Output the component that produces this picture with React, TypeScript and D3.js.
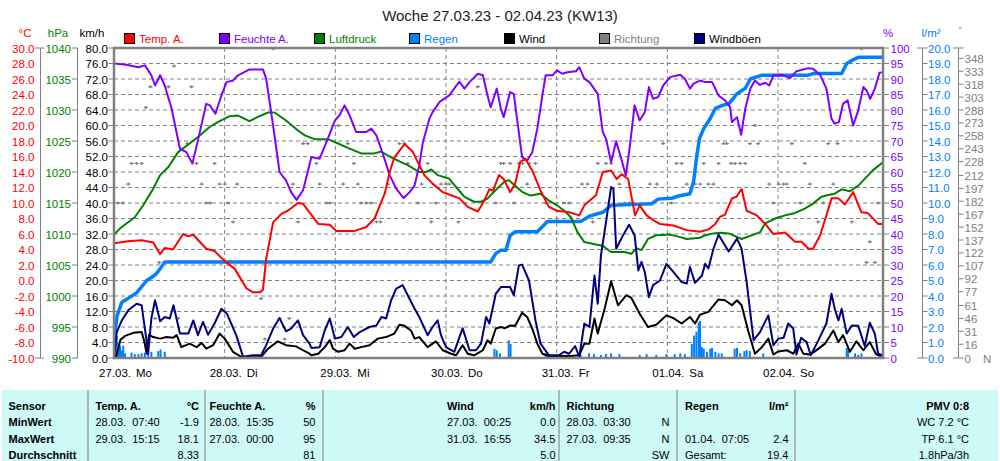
import React from 'react';
import * as d3 from 'd3';

// ---------- DATA (hours since 27.03. 00:00, value) ----------
const dayLabels = ['27.03.', '28.03.', '29.03.', '30.03.', '31.03.', '01.04.', '02.04.'];
const weekdays = ['Mo', 'Di', 'Mi', 'Do', 'Fr', 'Sa', 'So'];
const title = 'Woche 27.03.23 - 02.04.23 (KW13)';

const tempTicks = d3.range(-10, 30.001, 2);
const presTicks = d3.range(990, 1040.001, 5);
const kmhTicks = d3.range(0, 80.001, 4);
const humTicks = d3.range(0, 100.001, 5);
const rainTicks = d3.range(0, 20.001, 1);
const dirTicks = [0, 16, 31, 46, 61, 77, 92, 107, 122, 137, 152, 167, 182, 197, 212, 228, 243, 258, 273, 288, 303, 318, 333, 348];

const legendItems = [
  { label: 'Temp. A.', fill: '#ff0000', text: '#ff0000' },
  { label: 'Feuchte A.', fill: '#8000ff', text: '#8000ff' },
  { label: 'Luftdruck', fill: '#008000', text: '#008000' },
  { label: 'Regen', fill: '#0080ff', text: '#0080ff' },
  { label: 'Wind', fill: '#000000', text: '#000000' },
  { label: 'Richtung', fill: '#808080', text: '#808080' },
  { label: 'Windböen', fill: '#000080', text: '#000000' },
];

const tempSeries: [number, number][] = [
  [0, 4.8], [3.5, 5.1], [6, 5.2], [8.5, 4.9], [10, 3.4], [11, 4.2], [12.8, 4.0], [15, 6.0], [16.1, 5.7], [17.2, 5.9],
  [20, 4.1], [21.8, 3.8], [24, 2.5], [26.2, 1.5], [28.7, -1.0], [30.1, -1.5], [31.7, -1.5], [32.3, -1.2], [33, 2.8],
  [34.5, 7.5], [36.3, 8.6], [37.7, 9.0], [39.9, 10.0], [41, 9.9], [42.4, 8.8], [44.3, 7.3], [46.8, 7.2], [48.2, 6.4],
  [52.2, 6.4], [54.7, 6.9], [56.5, 8.0], [58.7, 11.2], [59.8, 14.0], [60.8, 15.9], [63, 17.6], [64.8, 16.6], [66.2, 14.9],
  [67.3, 13.6], [69.1, 12.5], [71.3, 11.4], [73.1, 11.0], [74.9, 10.6], [76.7, 9.5], [78.9, 8.9], [80.3, 10.3],
  [81.4, 11.8], [82.2, 11.6], [83.5, 13.6], [84.5, 13.1], [85.9, 11.4], [87, 12.5], [88.1, 15.3], [89.2, 15.7],
  [90.7, 14.2], [92.5, 11.6], [94.3, 9.5], [96.1, 9.0], [98.7, 8.8], [100.9, 8.4], [102, 9.7], [104.5, 11.0],
  [106, 14.0], [107.8, 14.2], [109, 13.1], [110.1, 13.7], [111.5, 13.1], [113, 8.4], [114, 9.7], [115.5, 8.4],
  [116.9, 7.8], [118.4, 7.3], [121.3, 7.1], [124.2, 6.5], [127.1, 6.3], [129, 6.6], [130.4, 7.3], [131.4, 8.2],
  [132.5, 8.5], [134, 10.6], [135, 10.8], [136.1, 11.8], [137.2, 9.0], [139.4, 8.4], [141.2, 7.3], [143, 6.0],
  [145.5, 6.2], [147.7, 5.0], [149.1, 5.0], [150.6, 4.1], [151.6, 4.1], [153.1, 5.8], [154.5, 8.4], [155.6, 10.6],
  [157.1, 10.6], [158.5, 9.8], [160.3, 11.4], [162.1, 8.8], [163.5, 8.7], [165.7, 7.3], [166.8, 7.3],
];

const humSeries: [number, number][] = [
  [0, 95], [2.7, 94.6], [5.3, 93.8], [6.7, 94.4], [8.1, 91.2], [8.9, 87.9], [10, 91.2], [11, 87.9], [12.5, 80.4],
  [14.3, 67.5], [15.7, 66.4], [17, 62.7], [18.2, 70.2], [20, 82], [20.8, 81.5], [22, 78.8], [23.3, 84.7], [24.4, 89],
  [25.8, 89.5], [26.9, 91.2], [29.4, 93.1], [32.3, 93.1], [33, 90.1], [34.5, 75], [35.9, 60], [37.3, 57.3], [38.4, 53.5],
  [39.6, 51], [41, 54.1], [42, 60], [42.8, 64.8], [44.6, 64.3], [46.1, 69.7], [47.9, 76.6], [48.9, 78.3], [50, 81.5],
  [51.1, 78.3], [52.5, 72.9], [54.7, 72.9], [55.8, 74], [56.9, 71.8], [58.3, 65.9], [59.8, 58.9], [61.2, 54.6],
  [62.8, 51.6], [64.1, 53.5], [65.2, 55.7], [66.2, 62.1], [67, 69.7], [68.4, 77.2], [69.1, 79.3], [70.6, 82.6],
  [72.7, 84.7], [74.9, 89.2], [76, 86.9], [77.1, 89], [78.9, 91.7], [80, 91.2], [81, 84.7], [81.7, 80.9], [83, 86.9],
  [83.9, 80.4], [84.5, 77.7], [85.9, 85.8], [86.7, 85.2], [87.4, 77.2], [88.5, 64.8], [89.6, 63.7], [90.7, 66.4],
  [91.8, 74], [92.9, 84.7], [93.6, 91.2], [95.1, 91.2], [96.1, 92.8], [97.2, 91.7], [98.3, 92.2], [100.2, 92.5],
  [100.9, 93.8], [102, 90.1], [103.1, 89], [104.9, 85.2], [106, 72.9], [106.7, 70.7], [107.8, 63.2], [108.9, 69.9],
  [110, 64.3], [111, 58.9], [111.8, 67.5], [112.9, 81.5], [114, 76.6], [115.1, 79.3], [116, 87.4], [116.9, 83.6],
  [118, 84.2], [119.1, 87.9], [120.6, 90.6], [122.8, 91.4], [123.8, 90.1], [124.9, 86.9], [125.7, 88.5], [127.1, 89.5],
  [128.2, 89], [129.7, 89], [131.1, 84.7], [132.5, 83.1], [133.6, 80.9], [134, 76.1], [135.1, 77.7], [136, 72],
  [136.9, 80.4], [138, 86.9], [139, 89.5], [140.1, 88.1], [141.2, 88.8], [142.1, 87.9], [143, 91.2], [144.8, 91.4],
  [146.6, 90.3], [148, 92.5], [150.6, 93.5], [151.6, 93.3], [153.1, 91.4], [154.5, 86.9], [155.6, 77.2], [156.3, 75.6],
  [157.2, 76.1], [158.1, 82], [159.1, 83.1], [160.3, 75], [161.4, 79.9], [162.5, 87.4], [163.2, 86.3], [164, 83.6],
  [165, 86.9], [166, 92], [166.8, 92.2],
];

const presSeries: [number, number][] = [
  [0, 1009.9], [1.3, 1010.9], [2.7, 1011.7], [4.5, 1012.7], [6.3, 1014.6], [8.5, 1017.3], [10, 1019.5], [11.8, 1020.8],
  [13.9, 1023.2], [16.4, 1024.6], [18.6, 1025.9], [20.8, 1027.3], [22.6, 1028.1], [25.1, 1029], [26.9, 1029.1],
  [29.4, 1028.2], [31.2, 1028.9], [33.4, 1029.6], [34.8, 1029.6], [37.3, 1028.3], [39.9, 1026.7], [41.4, 1025.9],
  [43.5, 1025.3], [46.4, 1025.3], [48.6, 1024.6], [50.7, 1023.9], [53.6, 1023], [56.5, 1023], [57.9, 1023.3],
  [59.8, 1022.5], [61.9, 1021.7], [63.7, 1021.1], [66.2, 1020], [67.7, 1020], [68.8, 1020.4], [70.2, 1019.5],
  [72.7, 1018.9], [74.5, 1017.3], [76, 1016], [78.1, 1015.2], [79.6, 1015.2], [81, 1015.7], [82.5, 1016.9],
  [84.6, 1018.4], [85.6, 1018.7], [87, 1017.8], [88.5, 1016.8], [90.3, 1016.2], [92.5, 1016.5], [94.3, 1015.4],
  [96.1, 1014.6], [97.6, 1013.8], [99.1, 1012.7], [100.5, 1010.3], [102, 1008.7], [104.5, 1008.3], [106, 1008.1],
  [107.8, 1007.1], [110.7, 1007.1], [112.2, 1006.8], [113.3, 1007.7], [114.4, 1007.4], [115.8, 1009.2], [117.6, 1009.8],
  [120.6, 1009.9], [122.8, 1009.5], [124.2, 1009.2], [127.1, 1009.4], [128.2, 1009.8], [130, 1010.1], [131.5, 1010.2],
  [133.3, 1010.1], [136.1, 1009.2], [138.7, 1009.9], [140.1, 1010.3], [141.2, 1011.7], [143.4, 1012.5], [145.5, 1013],
  [147.7, 1013.4], [149.8, 1014.1], [151.6, 1014.9], [153.4, 1016], [154.9, 1016.3], [156.3, 1016.5], [157.8, 1017.2],
  [159.6, 1016.9], [161.4, 1017.8], [162.8, 1018.9], [164.6, 1020.3], [166.8, 1021.6],
];

const rainSumSeries: [number, number][] = [
  [0, 0], [0.2, 1.7], [0.7, 2.75], [1.7, 3.6], [3.1, 3.85], [4.9, 4.2], [7.1, 5.0], [8.9, 5.35], [10, 5.75], [11, 6.2],
  [81.7, 6.2], [82.8, 6.75], [83.9, 6.95], [85, 6.95], [85.9, 7.9], [87, 8.15], [91.8, 8.15], [94, 8.8], [101.2, 8.8],
  [103.1, 9.15], [106, 9.4], [107.8, 9.85], [116.6, 9.95], [118, 10.25], [120.9, 10.3], [122.4, 10.45], [124.9, 10.6],
  [125.7, 11.4], [126.4, 13.1], [127, 14.2], [127.9, 14.8], [129.3, 15.45], [130.4, 16.1], [131.9, 16.3], [133.3, 16.4],
  [134.3, 16.75], [135.1, 17.05], [136.9, 17.4], [138, 18.0], [140.5, 18.25], [150.6, 18.25], [151.6, 18.35],
  [157.8, 18.35], [158.9, 19.0], [160, 19.2], [161.4, 19.4], [166.8, 19.4],
];

const rainBars: [number, number][] = [
  [0.2, 1.7], [0.6, 1.45], [0.9, 1.0], [1.3, 0.8], [1.7, 0.5], [2.0, 0.8], [2.4, 0.3], [3.8, 0.35], [4.5, 0.25],
  [5.3, 0.25], [6.0, 0.3], [6.7, 0.35], [7.4, 0.45], [8.1, 0.4], [9.6, 0.45], [10.1, 0.55], [11.0, 0.4],
  [82.5, 0.6], [83.0, 0.5], [83.7, 0.3], [85.6, 1.15], [86.0, 0.9], [93.6, 0.3], [94.0, 0.35], [101.2, 0.2],
  [103, 0.3], [104.1, 0.25], [105.6, 0.2], [106.7, 0.25], [107.8, 0.3], [109.6, 0.25], [114, 0.2], [115.5, 0.25],
  [117.6, 0.2], [119.8, 0.25], [121.6, 0.25], [122.8, 0.3], [123.8, 0.25], [125.3, 0.9], [125.8, 1.45], [126.3, 1.7],
  [126.8, 2.3], [127.1, 2.4], [127.5, 0.7], [127.9, 0.6], [128.6, 0.4], [129.3, 0.6], [129.7, 0.65], [130.4, 0.4],
  [131.1, 0.3], [131.8, 0.3], [134.6, 0.6], [135.1, 0.65], [135.8, 0.3], [136.7, 0.45], [137.2, 0.5], [137.9, 0.45],
  [140.8, 0.3], [158.9, 0.65], [159.2, 0.5], [160.7, 0.3], [161.4, 0.2], [162.1, 0.3], [166, 0.2],
];

const windSeries: [number, number][] = [
  [0, 0.7], [0.4, 0], [1.4, 4.7], [2.4, 5.7], [4.2, 6.5], [6, 6.7], [6.6, 4.1], [7.1, 1.1], [7.6, 6], [8.5, 5.4],
  [10, 5], [11.4, 5.4], [12.8, 5.2], [13.6, 5.9], [14.6, 2.8], [16.4, 3.7], [17.9, 2.8], [19, 3.9], [20, 2.4],
  [21.5, 3.3], [22.9, 6.3], [24, 5], [25.8, 1.6], [27.6, 0.3], [29.8, 0.2], [31.9, 0.2], [33.4, 2.4], [35.5, 4.3],
  [37.3, 3.3], [39.5, 3], [41, 2], [42.4, 1.1], [42.8, 0.7], [44.3, 1.1], [45.7, 2.8], [46.8, 4.6], [47.5, 2.4],
  [48.6, 1.6], [50, 2], [51.1, 3.7], [52.2, 2.4], [53.6, 2.8], [55.4, 3.3], [57.2, 5], [59, 5.4], [60.8, 6.3],
  [61.9, 8.6], [63, 8.3], [64.4, 7.1], [65.2, 5], [66.2, 5.4], [68, 2.8], [69.8, 4.3], [71.3, 2], [73.1, 1.1],
  [74.2, 0.7], [75.6, 3.3], [76.7, 1.1], [78.1, 0.7], [80, 2], [81, 4.6], [81.7, 3.7], [82.8, 7.6], [83.9, 8],
  [84.8, 7.7], [85.9, 8.4], [87, 8.3], [88.5, 11.7], [89.6, 10.6], [90.7, 7.6], [91.8, 3.7], [92.9, 1.1], [94.3, 0.5],
  [99.1, 0.5], [100.9, 0.7], [102, 3.7], [103.1, 3.7], [104.2, 10.2], [104.9, 6.3], [106.4, 12.7], [107.8, 19.8],
  [109.3, 13.6], [111.1, 16.2], [112.2, 15.5], [114, 11.4], [115.8, 8], [117.6, 8.6], [119.8, 11], [121.3, 10.3],
  [123.1, 8.9], [124.9, 10.6], [126, 8.9], [127.1, 11.2], [128.9, 11.9], [131.1, 15.1], [132.5, 14.9], [134, 13.6],
  [135.1, 14.9], [136.1, 13.6], [137.6, 6.7], [139, 1.1], [140.5, 2.8], [141.9, 5], [143, 0.9], [144.1, 1.7],
  [145.9, 2], [147.3, 1.1], [148.4, 3.7], [149.5, 1.1], [150.9, 0.9], [152, 1.7], [154.2, 3.7], [156, 7.1],
  [157.1, 4.1], [158.1, 5.9], [159.6, 1.6], [161, 4.3], [162.5, 2], [163.9, 4.1], [165.3, 0.9], [166.8, 0.5],
];

const gustSeries: [number, number][] = [
  [0, 0], [0.6, 6.7], [1.7, 9.7], [3.1, 12.3], [4.9, 14], [6, 13.6], [7.1, 4.1], [7.4, 1.1], [8.1, 10.2], [8.9, 14.9],
  [10, 9.5], [11, 10.6], [12.1, 10.2], [12.9, 13.6], [14.3, 6.3], [16.1, 6.3], [17.2, 9.7], [18.2, 5.9], [19.3, 9.3],
  [20.4, 6], [21.8, 8.9], [23.3, 12.7], [24.5, 11.4], [26.5, 5.9], [28, 0.3], [30.1, 0.7], [31.9, 0.7], [33, 3.3],
  [34.5, 7.6], [35.9, 10.3], [37.3, 6.9], [38.4, 7.6], [39.9, 9.7], [41, 5.9], [42.4, 3.7], [42.8, 2.6], [44.6, 2.8],
  [45.7, 7.1], [46.8, 10.2], [47.9, 5], [49.3, 5.4], [50.7, 8], [52, 5.4], [53.3, 6.7], [55.4, 8], [56.9, 8.4],
  [58, 10.6], [59, 10.2], [60.1, 14.9], [61.2, 17.9], [62.6, 18.8], [63.7, 16.2], [65.2, 12.7], [66.2, 10.6], [68, 5.9],
  [69.1, 8], [70.2, 9.7], [70.9, 5.9], [72, 2.8], [73.8, 1.6], [75.6, 7.7], [77.1, 2], [78.5, 2], [79.6, 3.7],
  [80.7, 10.6], [81.4, 8.9], [82.8, 16.6], [83.9, 18.3], [85.9, 18.3], [86.7, 16.2], [87.8, 23.9], [88.5, 24.1],
  [90, 20], [91.4, 9.7], [92.5, 3.7], [94.3, 0.7], [96.5, 0.7], [97.6, 1.6], [98.7, 1.1], [100, 3.1], [100.9, 0.3],
  [102, 8.9], [103.1, 8], [104.2, 21.3], [104.9, 14], [105.6, 26.5], [106.7, 35.1], [107.8, 44.1], [108.3, 43.7],
  [108.9, 28.2], [110.4, 31.7], [111.7, 34.4], [112.9, 31.7], [113.7, 22.6], [114.4, 24.8], [115.1, 22.2], [116, 15.7],
  [116.9, 18.8], [118.4, 20], [119.8, 24.3], [121.3, 22.2], [123.1, 19.6], [124.2, 19.2], [124.9, 23.5], [126, 19.4],
  [127.5, 21.3], [128.2, 24.3], [128.9, 23.1], [130, 28.2], [131.1, 31.8], [133.3, 27.5], [135.1, 30.8], [136.1, 28.2],
  [137.2, 19.6], [138.7, 4.6], [140.1, 6.7], [141.9, 11], [143, 3.3], [144.1, 5], [145.2, 5.2], [146.2, 8.9],
  [147.3, 7.6], [148, 0.9], [149, 5.2], [150.2, 4.1], [151.1, 0.7], [152.4, 3.7], [154.5, 8.9], [155.6, 16.6],
  [156.3, 12.7], [157.1, 9.7], [157.8, 12.7], [158.9, 6.3], [160, 8.4], [161.4, 8.3], [162.8, 3.1], [163.9, 9.1],
  [165, 6.3], [165.7, 1.1], [166.8, 0.7],
];

const dirSeries: [number, number][] = [
  [0.9, 180], [1.9, 180], [3.1, 202], [3.8, 226], [4.9, 226], [6, 226], [6.9, 291], [7.9, 315], [8.9, 46], [9.8, 111],
  [11.8, 315], [13, 339], [13.9, 46], [15.9, 249], [16.8, 315], [17.9, 226], [19, 202], [20, 180], [20.8, 180],
  [21.8, 226], [22.9, 202], [24, 202], [24.7, 180], [25.8, 158], [26.7, 202], [31.9, 69], [32.7, 22], [34.5, 359],
  [35.9, 46], [37, 22], [38, 46], [38.8, 202], [39.9, 158], [41, 249], [42, 249],
  [43.9, 226], [44.6, 202], [46.1, 180], [46.8, 180], [48.6, 270], [49.7, 202], [50.7, 249], [52, 226], [52.9, 202],
  [53.6, 180], [54.7, 180], [55.8, 180], [56.9, 158], [57.8, 158], [59.4, 202], [61.9, 249], [63, 249], [63.7, 226],
  [65.9, 180], [66.7, 202], [68, 226], [68.8, 158], [69.8, 180], [70.9, 202], [72, 202], [72.7, 202], [74.7, 158],
  [76, 180], [78.9, 315], [82.8, 180], [83.9, 226],
  [84.5, 226], [85.9, 226], [86.7, 180], [87.8, 226], [88.6, 226], [89.6, 202], [90, 226], [91.4, 226], [93.6, 180],
  [97.6, 180], [98.7, 180], [101.5, 202], [102.7, 202], [103.8, 158], [104.9, 226], [106.7, 226], [107.8, 226],
  [109.6, 202], [110.7, 180], [111.8, 180], [112.5, 180], [116.2, 202], [117.7, 202], [119.1, 249], [120.9, 180],
  [122, 226], [123.1, 226], [124.2, 202], [126, 202],
  [127.1, 202], [127.9, 226], [128.9, 202], [130, 202], [131.1, 226], [132.2, 249], [132.9, 249], [133.8, 226],
  [134.7, 226], [135.8, 226], [136.9, 226], [137.9, 249], [139, 270], [139.7, 249], [142.1, 202], [143, 180],
  [144.1, 202], [145.2, 202], [145.9, 202], [147, 249], [148.8, 180], [149.8, 226], [150.9, 202], [152.7, 158],
  [153.8, 180], [154.9, 249], [156, 202], [156.9, 249], [160, 158], [162.1, 359], [163.2, 111], [163.9, 135],
  [165, 111], [165.7, 180],
];

// ---------- TABLE TEXT ----------
const rowLabels = ['Sensor', 'MinWert', 'MaxWert', 'Durchschnitt'];
const tempHead = ['Temp. A.', '°C'];
const tempDates = ['28.03.  07:40', '29.03.  15:15', ''];
const tempVals = ['-1.9', '18.1', '8.33'];
const humHead = ['Feuchte A.', '%'];
const humDates = ['28.03.  15:35', '27.03.  00:00', ''];
const humVals = ['50', '95', '81'];
const windHead = ['Wind', 'km/h'];
const windDates = ['27.03.  00:25', '31.03.  16:55', ''];
const windVals = ['0.0', '34.5', '5.0'];
const dirHead = ['Richtung', ''];
const dirDates = ['28.03.  03:30', '27.03.  09:35', ''];
const dirVals = ['N', 'N', 'SW'];
const rainHead = ['Regen', 'l/m²'];
const rainDates = ['', '01.04.  07:05', 'Gesamt:'];
const rainVals = ['', '2.4', '19.4'];
const extraLines = ['PMV 0:8', 'WC 7.2 °C', 'TP 6.1 °C', '1.8hPa/3h'];

// ---------- LAYOUT ----------
const PL = 114, PR = 883, PT = 48, PB = 358;
const FONT = "'Liberation Sans', Arial, Helvetica, sans-serif";
const C = {
  red: '#ff0000', purple: '#8000ff', green: '#008000', blue: '#0080ff', black: '#000000', gray: '#808080', navy: '#000080',
};

export default function App() {
  const x = d3.scaleLinear().domain([0, 168]).range([PL, PL + 7 * 110.67]);
  const yK = d3.scaleLinear().domain([0, 80]).range([PB, PT]);
  const yT = d3.scaleLinear().domain([-10, 30]).range([PB, PT]);
  const yP = d3.scaleLinear().domain([990, 1040]).range([PB, PT]);
  const yH = d3.scaleLinear().domain([0, 100]).range([PB, PT]);
  const yR = d3.scaleLinear().domain([0, 20]).range([PB, PT]);
  const yD = d3.scaleLinear().domain([0, 360]).range([PB, PT]);

  const mk = (ys: d3.ScaleLinear<number, number>) =>
    d3.line<[number, number]>().x((d) => x(d[0])).y((d) => ys(d[1]));

  const rowY = [409.5, 426, 442.5, 459];
  const dividers = [88, 205, 323, 559, 677, 795];

  const colBlock = (head: string[], dates: string[], vals: string[], xl: number, xr: number, key: string) => (
    <g key={key}>
      <text x={xl} y={rowY[0]} fontWeight="bold">{head[0]}</text>
      {head[1] && <text x={xr} y={rowY[0]} fontWeight="bold" textAnchor="end">{head[1]}</text>}
      {dates.map((d, i) => (
        <text key={'d' + i} x={xl} y={rowY[i + 1]} style={{ whiteSpace: 'pre' }}>{d}</text>
      ))}
      {vals.map((v, i) => (
        <text key={'v' + i} x={xr} y={rowY[i + 1]} textAnchor="end">{v}</text>
      ))}
    </g>
  );

  return (
    <svg
      width={1000}
      height={461}
      style={{ position: 'absolute', left: 0, top: 0, background: '#ffffff' }}
      fontFamily={FONT}
    >
      <defs>
        <clipPath id="plotClip">
          <rect x={PL} y={PT - 1} width={PR - PL} height={PB - PT + 2} />
        </clipPath>
      </defs>
      <rect x={0} y={0} width={1000} height={461} fill="#ffffff" />

      {/* title */}
      <text x={500} y={21} textAnchor="middle" fontSize={15} fill="#222">{title}</text>

      {/* legend */}
      {legendItems.map((it, i) => (
        <g key={it.label} transform={`translate(${124 + i * 95},33)`}>
          <rect x={0.5} y={0.5} width={10} height={10} fill={it.fill} stroke="#000" strokeWidth={1} />
          <text x={15} y={9.5} fontSize={11.5} fill={it.text}>{it.label}</text>
        </g>
      ))}

      {/* unit labels */}
      <text x={25} y={37} fontSize={11.5} fill={C.red} textAnchor="middle">°C</text>
      <text x={58} y={37} fontSize={11.5} fill={C.green} textAnchor="middle">hPa</text>
      <text x={92} y={37} fontSize={11.5} fill={C.black} textAnchor="middle">km/h</text>
      <text x={888} y={37} fontSize={11.5} fill={C.purple} textAnchor="middle">%</text>
      <text x={931} y={37} fontSize={11.5} fill={C.blue} textAnchor="middle">l/m²</text>
      <text x={960} y={33} fontSize={9} fill={C.gray} textAnchor="middle">°</text>

      {/* grid */}
      {kmhTicks.filter((t) => t > 0 && t < 80).map((t) => (
        <line key={'hg' + t} x1={PL} x2={PR} y1={yK(t)} y2={yK(t)} stroke="#808080" strokeWidth={1} strokeDasharray="4,3" />
      ))}
      {d3.range(1, 7).map((d) => (
        <line key={'vg' + d} x1={x(d * 24)} x2={x(d * 24)} y1={PT} y2={PB} stroke="#808080" strokeWidth={1} strokeDasharray="4,3" />
      ))}

      {/* left axes */}
      <g fontSize={11.5}>
        <line x1={40.5} x2={40.5} y1={PT} y2={PB} stroke="#808080" />
        <line x1={35} x2={44} y1={PT} y2={PT} stroke="#808080" />
        <line x1={35} x2={44} y1={PB} y2={PB} stroke="#808080" />
        {tempTicks.map((t) => (
          <text key={'tt' + t} x={34.5} y={yT(t) + 4.5} textAnchor="end" fill={C.red}>{t.toFixed(1)}</text>
        ))}
        <line x1={77.5} x2={77.5} y1={PT} y2={PB} stroke="#808080" />
        {presTicks.map((t) => (
          <g key={'pt' + t}>
            <line x1={72} x2={78} y1={yP(t)} y2={yP(t)} stroke="#808080" />
            <text x={71} y={yP(t) + 4.5} textAnchor="end" fill={C.green}>{t}</text>
          </g>
        ))}
        {kmhTicks.map((t) => (
          <g key={'kt' + t}>
            <line x1={108.5} x2={PL} y1={yK(t)} y2={yK(t)} stroke="#808080" />
            <text x={108} y={yK(t) + 4.5} textAnchor="end" fill={C.black}>{t.toFixed(1)}</text>
          </g>
        ))}
      </g>

      {/* right axes */}
      <g fontSize={11.5}>
        {humTicks.map((t) => (
          <g key={'ht' + t}>
            <line x1={PR} x2={889} y1={yH(t)} y2={yH(t)} stroke="#808080" />
            <text x={890.5} y={yH(t) + 4.5} fill={C.purple}>{t}</text>
          </g>
        ))}
        <line x1={922.5} x2={922.5} y1={PT} y2={PB} stroke="#808080" />
        <line x1={917} x2={922.5} y1={PT} y2={PT} stroke="#808080" />
        <line x1={917} x2={922.5} y1={PB} y2={PB} stroke="#808080" />
        {rainTicks.map((t) => (
          <g key={'rt' + t}>
            <line x1={922.5} x2={927.5} y1={yR(t)} y2={yR(t)} stroke="#808080" />
            <text x={928} y={yR(t) + 4.5} fill={C.blue}>{t.toFixed(1)}</text>
          </g>
        ))}
        <line x1={958.5} x2={958.5} y1={PT} y2={PB} stroke="#808080" />
        <line x1={953} x2={963.5} y1={PT} y2={PT} stroke="#808080" />
        <line x1={953} x2={958.5} y1={PB} y2={PB} stroke="#808080" />
        {dirTicks.map((t) => (
          <g key={'dt' + t}>
            <line x1={958.5} x2={963.5} y1={yD(t)} y2={yD(t)} stroke="#808080" />
            <text x={964.5} y={yD(t) + 4.5} fill={C.gray}>{t}</text>
          </g>
        ))}
        <text x={983} y={PB + 4.5} fill={C.gray}>N</text>
      </g>

      {/* data */}
      <g clipPath="url(#plotClip)">
        {rainBars.map((d, i) => (
          <rect key={'rb' + i} x={x(d[0]) - 1} y={yR(d[1])} width={2} height={PB - yR(d[1])} fill={C.blue} />
        ))}
        {dirSeries.map((d, i) => (
          <path
            key={'dm' + i}
            d={`M${x(d[0]) - 2},${yD(d[1])}h4M${x(d[0])},${yD(d[1]) - 1.5}v3`}
            stroke={C.gray}
            strokeWidth={1.3}
            fill="none"
          />
        ))}
        <path d={mk(yR)(rainSumSeries) || ''} fill="none" stroke={C.blue} strokeWidth={3.5} strokeLinejoin="round" />
        <path d={mk(yP)(presSeries) || ''} fill="none" stroke={C.green} strokeWidth={2} strokeLinejoin="round" />
        <path d={mk(yH)(humSeries) || ''} fill="none" stroke={C.purple} strokeWidth={2} strokeLinejoin="round" />
        <path d={mk(yT)(tempSeries) || ''} fill="none" stroke={C.red} strokeWidth={2} strokeLinejoin="round" />
        <path d={mk(yK)(windSeries) || ''} fill="none" stroke={C.black} strokeWidth={2} strokeLinejoin="round" />
        <path d={mk(yK)(gustSeries) || ''} fill="none" stroke={C.navy} strokeWidth={2} strokeLinejoin="round" />
      </g>

      {/* frame */}
      <rect x={PL} y={PT} width={PR - PL} height={PB - PT} fill="none" stroke="#808080" strokeWidth={2.5} />

      {/* x labels */}
      <g fontSize={11.5} fill="#000">
        {dayLabels.map((dl, i) => (
          <g key={dl}>
            <text x={x(i * 24) + 1} y={377} textAnchor="middle">{dl}</text>
            <text x={x(i * 24) + 22} y={377}>{weekdays[i]}</text>
          </g>
        ))}
      </g>

      {/* table */}
      <rect x={2} y={390} width={996} height={71} fill="#cdf9f6" />
      {dividers.map((dx) => (
        <line key={'dv' + dx} x1={dx} x2={dx} y1={390} y2={461} stroke="#a0a0a0" strokeWidth={1.5} />
      ))}
      <g fontSize={11} fill="#000">
        {rowLabels.map((r, i) => (
          <text key={r} x={8.5} y={rowY[i]} fontWeight="bold">{r}</text>
        ))}
        {colBlock(tempHead, tempDates, tempVals, 95.5, 199, 'c1')}
        {colBlock(humHead, humDates, humVals, 209.5, 315.5, 'c2')}
        {colBlock(windHead, windDates, windVals, 447, 555.5, 'c3')}
        {colBlock(dirHead, dirDates, dirVals, 566.5, 669.5, 'c4')}
        {colBlock(rainHead, rainDates, rainVals, 685, 788.5, 'c5')}
        {extraLines.map((t, i) => (
          <text key={t} x={969} y={rowY[i]} textAnchor="end" fontWeight={i === 0 ? 'bold' : 'normal'}>{t}</text>
        ))}
      </g>
    </svg>
  );
}
